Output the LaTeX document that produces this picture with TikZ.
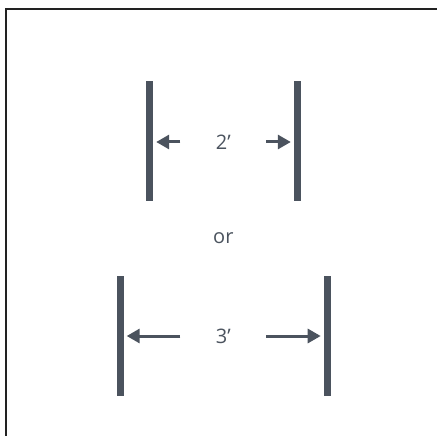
\documentclass[tikz,border=0pt]{standalone}
\usepackage{fontspec}
\setmainfont{Open Sans}
\usepackage{tikz}
\usetikzlibrary{positioning,arrows.meta}
\definecolor{slate}{HTML}{4B535E}
\definecolor{frame}{HTML}{222222}
\begin{document}
\begin{tikzpicture}[x=1pt,y=-1pt]
			\tikzstyle{bar} = [fill=slate, draw=none, inner sep=0pt, minimum width=7pt, minimum height=120pt]
			\tikzstyle{dim} = [draw=slate, line width=3pt, -{Triangle[length=13pt,width=14pt]}, shorten >=3pt]
			\tikzstyle{lbl} = [text=slate, font=\fontsize{20}{22}\selectfont, inner sep=0pt]
			\useasboundingbox (0,0) rectangle (437,436);
			% frame
			\draw[frame, line width=2.5pt] (6,436) -- (6,9) -- (437,9);
			% two feet
			\node[bar] (a1) at (149.5,141) {};
			\node[bar] (a2) at (297.5,141) {};
			\node[lbl] (t2) at (223.3,142) {2’};
			\coordinate[left=43pt of t2.center] (t2w);
			\coordinate[right=43pt of t2.center] (t2e);
			\draw[dim] (t2w) -- (a1.east |- t2w);
			\draw[dim] (t2e) -- (a2.west |- t2e);
			% or
			\node[lbl] (or) at (223.3,238) {or};
			% three feet
			\node[bar] (b1) at (120,336) {};
			\node[bar] (b2) at (327.4,336) {};
			\node[lbl] (t3) at (223.3,336) {3’};
			\coordinate[left=43pt of t3.center] (t3w);
			\coordinate[right=43pt of t3.center] (t3e);
			\draw[dim] (t3w) -- (b1.east |- t3w);
			\draw[dim] (t3e) -- (b2.west |- t3e);
		\end{tikzpicture}
\end{document}
